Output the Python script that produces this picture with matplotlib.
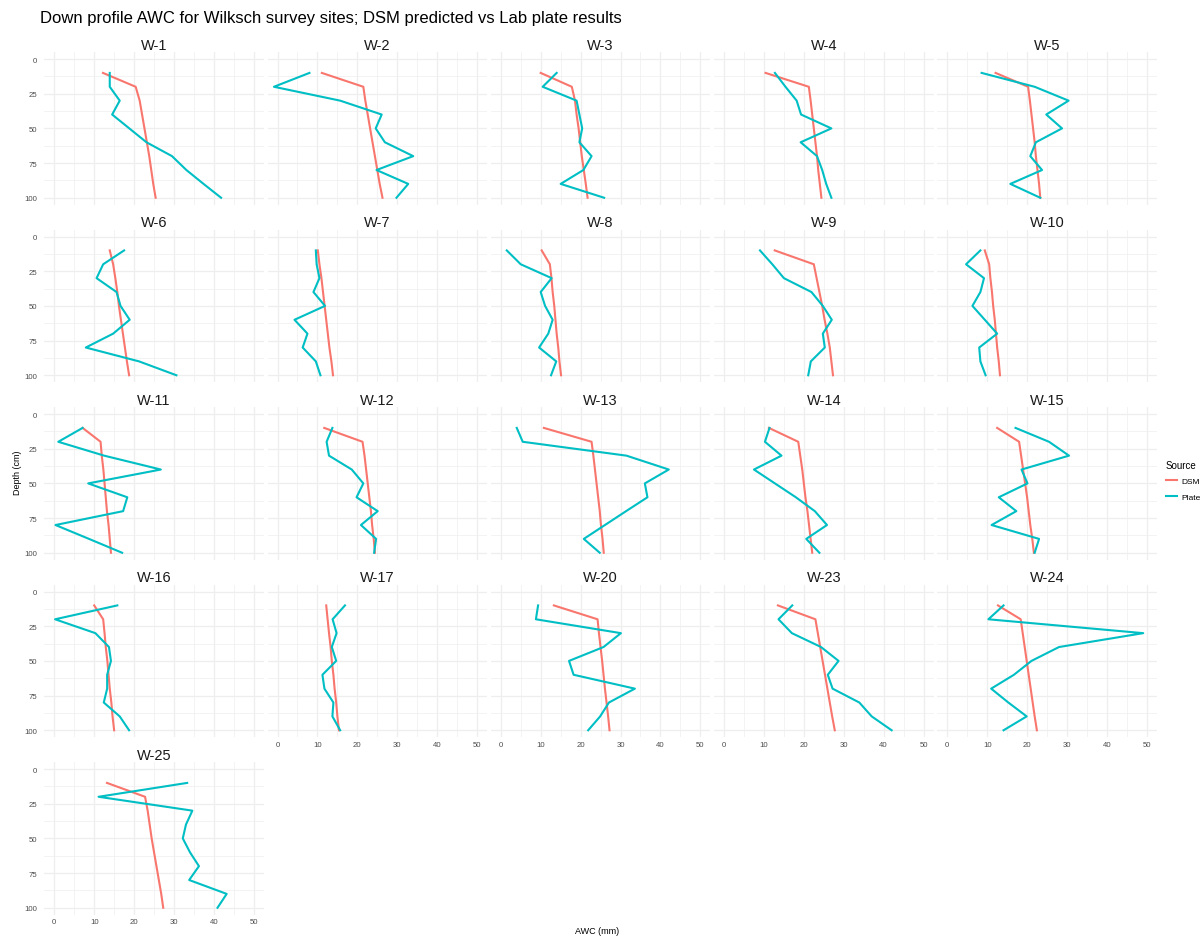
import matplotlib
matplotlib.use("Agg")
import matplotlib.pyplot as plt
from matplotlib.lines import Line2D

plt.rcParams['font.family'] = ['Liberation Sans', 'DejaVu Sans']

# Sample depths (cm)
depths = [10, 20, 30, 40, 50, 60, 70, 80, 90, 100]

sites = ["W-1", "W-2", "W-3", "W-4", "W-5",
         "W-6", "W-7", "W-8", "W-9", "W-10",
         "W-11", "W-12", "W-13", "W-14", "W-15",
         "W-16", "W-17", "W-20", "W-23", "W-24",
         "W-25"]

# DSM predicted AWC (mm) down each profile
dsm = {
    "W-1":  [12.2, 20.4, 21.4, 22.0, 22.6, 23.2, 23.8, 24.3, 24.8, 25.4],
    "W-2":  [11.1, 21.5, 22.0, 22.6, 23.2, 23.8, 24.4, 25.0, 25.6, 26.3],
    "W-3":  [10.0, 17.8, 18.6, 19.0, 19.5, 19.9, 20.3, 20.8, 21.3, 21.75],
    "W-4":  [10.4, 21.25, 21.7, 22.1, 22.5, 22.9, 23.3, 23.6, 24.0, 24.4],
    "W-5":  [12.1, 20.25, 20.7, 21.1, 21.5, 21.9, 22.2, 22.6, 23.0, 23.3],
    "W-6":  [13.9, 14.75, 15.3, 15.8, 16.2, 16.7, 17.2, 17.7, 18.2, 18.75],
    "W-7":  [10.1, 10.5, 11.0, 11.4, 11.8, 12.2, 12.6, 13.0, 13.5, 13.9],
    "W-8":  [10.25, 12.3, 12.7, 13.0, 13.4, 13.7, 14.0, 14.4, 14.7, 15.1],
    "W-9":  [12.7, 22.5, 23.2, 23.9, 24.6, 25.2, 25.9, 26.5, 26.9, 27.3],
    "W-10": [9.4, 10.5, 10.8, 11.2, 11.5, 11.9, 12.2, 12.5, 12.9, 13.2],
    "W-11": [7.1, 11.6, 11.9, 12.3, 12.6, 12.9, 13.2, 13.6, 13.9, 14.2],
    "W-12": [11.7, 21.3, 21.8, 22.2, 22.6, 23.0, 23.4, 23.7, 24.1, 24.4],
    "W-13": [10.8, 22.75, 23.2, 23.6, 24.0, 24.4, 24.8, 25.1, 25.5, 25.8],
    "W-14": [11.25, 18.6, 19.1, 19.6, 20.0, 20.4, 20.9, 21.3, 21.7, 22.1],
    "W-15": [12.5, 18.0, 18.5, 19.0, 19.5, 20.0, 20.4, 20.8, 21.3, 21.7],
    "W-16": [10.0, 12.25, 12.6, 12.9, 13.3, 13.6, 13.9, 14.3, 14.6, 15.0],
    "W-17": [12.2, 12.55, 12.9, 13.3, 13.6, 14.0, 14.3, 14.7, 15.0, 15.4],
    "W-20": [13.3, 24.25, 24.6, 25.0, 25.4, 25.75, 26.1, 26.5, 26.9, 27.25],
    "W-23": [13.5, 22.9, 23.5, 24.1, 24.7, 25.3, 25.9, 26.5, 27.1, 27.75],
    "W-24": [12.7, 18.4, 18.9, 19.4, 19.9, 20.4, 20.9, 21.4, 21.9, 22.45],
    "W-25": [13.2, 22.75, 23.4, 23.9, 24.4, 25.0, 25.6, 26.2, 26.8, 27.3],
}

# Lab pressure plate AWC (mm) down each profile
plate = {
    "W-1":  [13.9, 13.9, 16.4, 14.5, 18.8, 23.1, 29.5, 33.1, 37.4, 41.8],
    "W-2":  [8.0, -0.9, 15.7, 26.1, 24.6, 26.9, 34.0, 24.8, 32.75, 29.8],
    "W-3":  [14.0, 10.5, 19.0, 19.7, 20.4, 19.7, 22.75, 20.7, 15.0, 25.9],
    "W-4":  [12.75, 15.4, 18.2, 19.3, 26.9, 19.2, 23.3, 24.6, 25.6, 26.9],
    "W-5":  [8.6, 21.9, 30.4, 24.8, 28.75, 22.2, 20.8, 23.75, 15.8, 23.3],
    "W-6":  [17.5, 12.25, 10.6, 15.6, 16.6, 18.9, 14.75, 7.9, 21.25, 30.6],
    "W-7":  [9.6, 9.8, 10.5, 9.0, 11.9, 4.25, 7.5, 6.3, 9.6, 10.75],
    "W-8":  [1.5, 5.0, 12.75, 10.0, 11.1, 13.0, 11.9, 9.6, 13.9, 12.6],
    "W-9":  [9.0, 12.1, 15.0, 21.9, 24.75, 27.0, 24.75, 25.25, 21.75, 21.1],
    "W-10": [8.3, 4.7, 9.2, 8.3, 6.3, 9.4, 12.5, 8.0, 8.3, 9.6],
    "W-11": [7.1, 1.0, 12.5, 26.7, 8.5, 18.3, 17.25, 0.3, 8.7, 17.0],
    "W-12": [13.75, 12.3, 12.9, 18.6, 21.5, 19.8, 25.1, 20.9, 24.7, 24.2],
    "W-13": [4.0, 5.5, 31.5, 42.1, 36.1, 36.75, 31.4, 26.1, 20.8, 24.8],
    "W-14": [11.4, 10.25, 14.4, 7.5, 12.75, 18.0, 22.75, 25.8, 20.6, 23.9],
    "W-15": [17.1, 25.5, 30.5, 18.6, 20.1, 12.9, 17.3, 11.1, 23.0, 21.9],
    "W-16": [15.8, 0.2, 10.3, 13.7, 14.2, 13.25, 13.25, 12.4, 16.4, 18.75],
    "W-17": [16.9, 13.8, 14.8, 13.6, 14.7, 11.25, 11.75, 14.0, 13.75, 15.7],
    "W-20": [9.35, 8.8, 30.1, 25.75, 17.1, 18.25, 33.6, 27.1, 24.9, 21.9],
    "W-23": [17.1, 13.65, 17.0, 24.3, 28.7, 26.0, 27.2, 33.9, 37.0, 42.0],
    "W-24": [14.1, 10.3, 49.1, 28.0, 21.1, 16.7, 11.0, 15.3, 19.9, 14.1],
    "W-25": [33.3, 11.1, 34.6, 33.0, 32.2, 34.0, 36.25, 33.8, 43.2, 40.9],
}

x_ticks = [0, 10, 20, 30, 40, 50]
y_ticks = [0, 25, 50, 75, 100]

DSM_COL = "#F8766D"
PLATE_COL = "#00BFC4"
GRID_COL = "#EEEEEE"
TEXT_COL = "#4D4D4D"

W, H = 1201, 937
fig = plt.figure(figsize=(W / 100, H / 100), dpi=100)

ncol = 5
px_left, px_top = 44.3, 53.1
px_w, px_h = 219.5, 152.6
dx, dy = 223.25, 177.5

n = len(sites)
for i, site in enumerate(sites):
    r, c = divmod(i, ncol)
    left = (px_left + c * dx) / W
    bottom = 1 - (px_top + r * dy + px_h) / H
    ax = fig.add_axes([left, bottom, px_w / W, px_h / H])
    ax.set_xlim(-2.5, 52.5)
    ax.set_ylim(105, -5)
    ax.set_xticks(x_ticks)
    ax.set_xticks([5, 15, 25, 35, 45], minor=True)
    ax.set_yticks(y_ticks)
    ax.set_yticks([12.5, 37.5, 62.5, 87.5], minor=True)
    ax.grid(True, which="major", color=GRID_COL, lw=0.9)
    ax.grid(True, which="minor", color=GRID_COL, lw=0.5)
    ax.set_axisbelow(True)
    for s in ax.spines.values():
        s.set_visible(False)
    ax.tick_params(which="both", length=0, labelsize=5.6, labelcolor=TEXT_COL)
    ax.tick_params(axis="y", pad=5)
    ax.tick_params(axis="x", pad=2.5)

    # y labels on first column only; x labels on the lowest panel of each column
    if c != 0:
        ax.set_yticklabels([])
    below = i + ncol
    if below < n:
        ax.set_xticklabels([])

    ax.plot(dsm[site], depths, color=DSM_COL, lw=1.5, solid_joinstyle="round")
    ax.plot(plate[site], depths, color=PLATE_COL, lw=1.5, solid_joinstyle="round")
    ax.set_title(site, fontsize=10.5, color="#1A1A1A", pad=2.5)

fig.text(40 / W, 1 - 19 / H,
         "Down profile AWC for Wilksch survey sites; DSM predicted vs Lab plate results",
         fontsize=12, color="#000000", ha="left", va="center")
fig.text(18 / W, 1 - 473 / H, "Depth (cm)", rotation=90, fontsize=6.5,
         ha="center", va="center", color="#000000")
fig.text(597 / W, 1 - 932 / H, "AWC (mm)", fontsize=6.5,
         ha="center", va="center", color="#000000")

handles = [Line2D([], [], color=DSM_COL, lw=1.5),
           Line2D([], [], color=PLATE_COL, lw=1.5)]
leg = fig.legend(handles, ["DSM", "Plate"], title="Source",
                 loc="upper left", bbox_to_anchor=(1166 / W, 1 - 461 / H),
                 frameon=False, fontsize=6.0, title_fontsize=7,
                 handlelength=1.3, handletextpad=0.6, labelspacing=0.9,
                 alignment="left", borderaxespad=0, borderpad=0)

fig.savefig("out.png", dpi=100)
